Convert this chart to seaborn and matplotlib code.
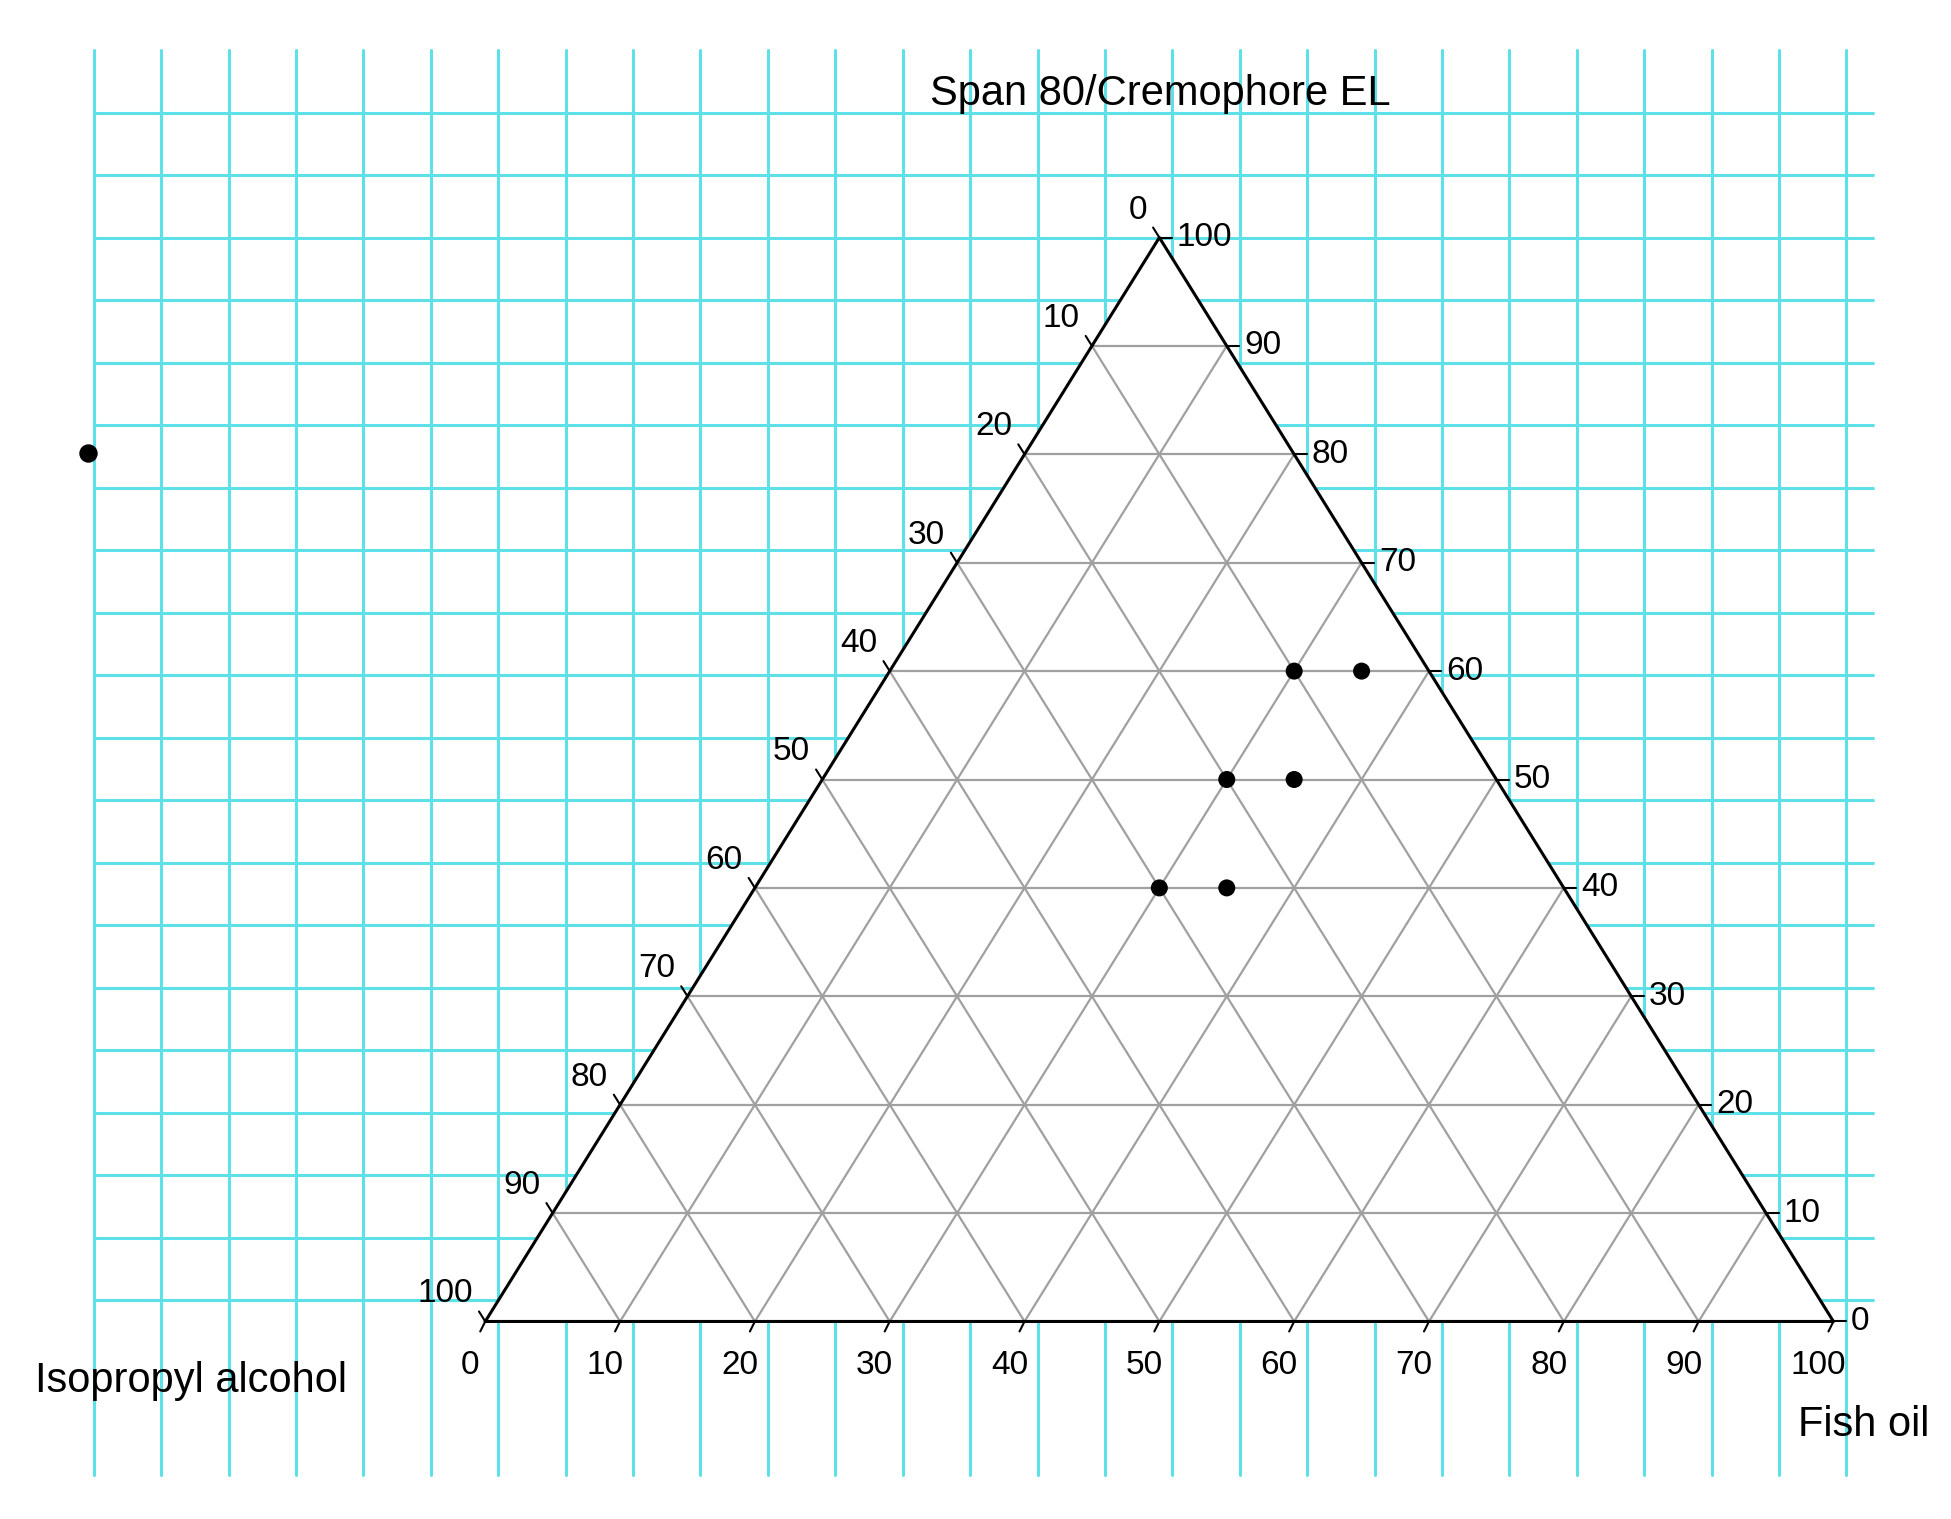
import numpy as np
import pandas as pd
import matplotlib
matplotlib.use("Agg")
import matplotlib.pyplot as plt
import seaborn as sns

fish_oil = [30, 35, 30, 35, 30, 35]
span = [60, 60, 50, 50, 40, 40]
ticks = [0, 10, 20, 30, 40, 50, 60, 70, 80, 90, 100]

sns.set_theme(style="white")
plt.rcParams['font.family'] = ['Liberation Sans', 'DejaVu Sans']
plt.rcParams['text.color'] = 'black'

W, H = 1560, 1215
fig = plt.figure(figsize=(19.51, 15.19), dpi=100)
ax = fig.add_axes([0, 0, 1, 1])
ax.set_xlim(0, W); ax.set_ylim(H, 0); ax.axis('off')

# background cyan grid
cyan = '#5ee0e8'
for x in np.arange(75, 1500, 53.9):
    ax.plot([x, x], [40, 1180], color=cyan, lw=2.2, zorder=0)
for y in np.arange(90, 1060, 50.0):
    ax.plot([75, 1498], [y, y], color=cyan, lw=2.2, zorder=0)

X0, X1, YB, YT = 388, 1466, 1057, 190
Wd, Hd = X1 - X0, YB - YT

def tp(f, s):
    f = np.asarray(f) / 100; s = np.asarray(s) / 100
    return X0 + Wd * (f + s / 2), YB - Hd * s

tx, ty = tp([0, 100, 0, 0], [0, 0, 100, 0])
ax.fill(tx, ty, color='white', zorder=1)
grey = '#a0a0a0'
for v in ticks[1:-1]:
    a = tp([0, 100 - v], [v, v]); ax.plot(a[0], a[1], color=grey, lw=1.6, zorder=2)
    a = tp([v, v], [0, 100 - v]); ax.plot(a[0], a[1], color=grey, lw=1.6, zorder=2)
    a = tp([100 - v, 0], [0, 100 - v]); ax.plot(a[0], a[1], color=grey, lw=1.6, zorder=2)
ax.plot(tx, ty, color='black', lw=2.2, zorder=3)

fs = 24
for v in ticks:
    x, y = tp(v, 0)
    ax.plot([x, x - 4], [y, y + 8], color='black', lw=1.5, zorder=3)
    ax.text(x - 12, 1092, str(v), ha='center', va='center', fontsize=fs)
    x, y = tp(100 - v, v)
    ax.plot([x, x + 10], [y, y], color='black', lw=1.5, zorder=3)
    ax.text(x + 14, y, str(v), ha='left', va='center', fontsize=fs)
    x, y = tp(0, 100 - v)
    ax.plot([x, x - 5], [y, y - 8], color='black', lw=1.5, zorder=3)
    ax.text(x - 10, y - 22, str(v), ha='right', va='center', fontsize=fs)

df = pd.DataFrame({'fish': fish_oil, 'span': span})
df['x'], df['y'] = tp(df['fish'], df['span'])
sns.scatterplot(data=df, x='x', y='y', color='black', s=150, edgecolor='none', zorder=5, ax=ax)
ax.scatter([70], [362], color='black', s=150, zorder=5)
ax.set_xlim(0, W); ax.set_ylim(H, 0); ax.axis('off')

ax.text(928, 75, 'Span 80/Cremophore EL', ha='center', va='center', fontsize=30)
ax.text(28, 1105, 'Isopropyl alcohol', ha='left', va='center', fontsize=30)
ax.text(1543, 1140, 'Fish oil', ha='right', va='center', fontsize=30)

fig.savefig('out.png', dpi=100, facecolor='white')
